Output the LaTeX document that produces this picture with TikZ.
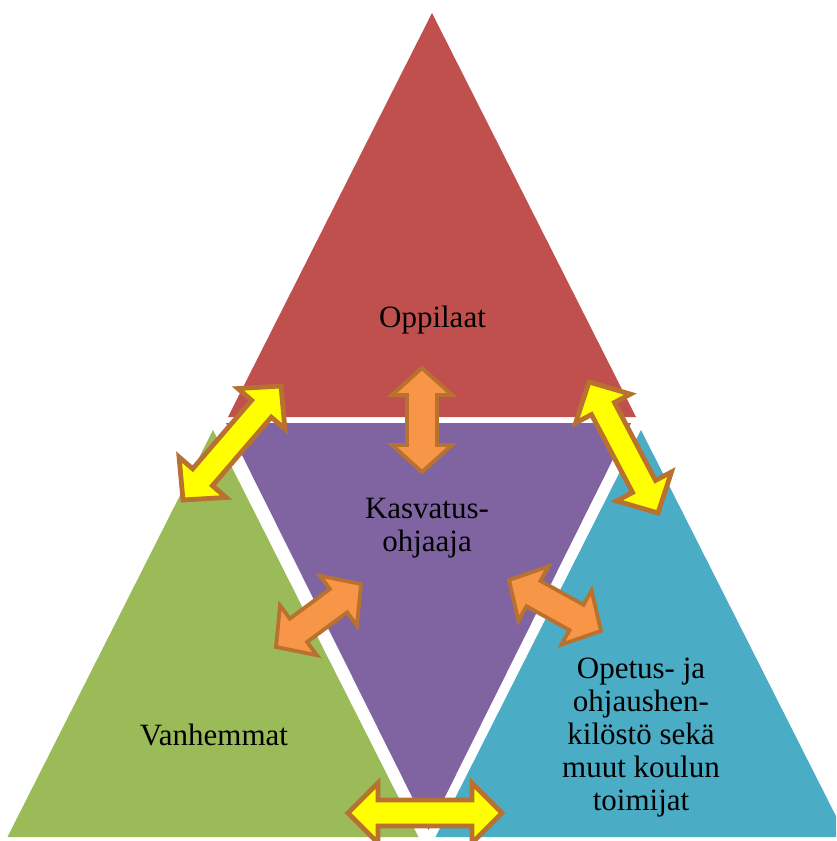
\documentclass[tikz,border=0pt]{standalone}
\usepackage{fontspec}
\setmainfont{Liberation Serif}
\usetikzlibrary{calc}
\definecolor{redT}{HTML}{C0504D}
\definecolor{purpleT}{HTML}{8064A2}
\definecolor{greenT}{HTML}{9BBB59}
\definecolor{blueT}{HTML}{4BACC6}
\definecolor{yellowA}{HTML}{FFFF00}
\definecolor{orangeA}{HTML}{F79646}
\definecolor{edgeA}{HTML}{B8712F}
% #1 style, #2 tip A, #3 tip B, #4 head length, #5 half head width, #6 half shaft width
\newcommand{\DArrow}[6]{%
 \coordinate (#2h) at ($(#2)!#4!(#3)$);
 \coordinate (#3h) at ($(#3)!#4!(#2)$);
 \draw[#1] (#2) -- ($(#2h)!#5!90:(#3)$) -- ($(#2h)!#6!90:(#3)$)
   -- ($(#3h)!#6!-90:(#2)$) -- ($(#3h)!#5!-90:(#2)$) -- (#3)
   -- ($(#3h)!#5!90:(#2)$) -- ($(#3h)!#6!90:(#2)$)
   -- ($(#2h)!#6!-90:(#3)$) -- ($(#2h)!#5!-90:(#3)$) -- cycle;}
\tikzset{
  yarrow/.style={fill=yellowA, draw=edgeA, line width=4.8pt, line join=miter},
  oarrow/.style={fill=orangeA, draw=edgeA, line width=3.8pt, line join=miter},
  lbl/.style={font=\fontsize{31}{33}\selectfont, align=center, inner sep=0pt, text=black},
}
\begin{document}
\begin{tikzpicture}[x=1pt,y=-1pt]
\useasboundingbox (0,0) rectangle (836,841);
\clip (0,0) rectangle (836,841);
% triangles
\fill[redT] (432,13) -- (228,417) -- (636,417) -- cycle;
\fill[purpleT] (226,423) -- (631,423) -- (428.5,830) -- cycle;
\fill[greenT] (213,430) -- (7.5,837) -- (418.5,837) -- cycle;
\fill[blueT] (641,430) -- (435.5,837) -- (846.5,837) -- cycle;
% labels (base anchor = baseline of the last line)
\node[lbl, anchor=base] (opp) at (432.5,327) {Oppilaat};
\node[lbl, anchor=base] (kas) at (427,551) {Kasvatus-\\ohjaaja};
\node[lbl, anchor=base] (van) at (214,745) {Vanhemmat};
\node[lbl, anchor=base] (ope) at (641,810) {Opetus- ja\\ohjaushen-\\kilöstö sekä\\muut koulun\\toimijat};
% arrow end points
\coordinate (ya) at (183,500);  \coordinate (yb) at (281,386);
\coordinate (yc) at (589,382);  \coordinate (yd) at (658,513);
\coordinate (ye) at (348,813);  \coordinate (yf) at (502,813);
\coordinate (oa) at (422,368);  \coordinate (ob) at (422,472);
\coordinate (oc) at (276,647);  \coordinate (od) at (361,584);
\coordinate (oe) at (509,580);  \coordinate (of) at (601,631);
% yellow arrows
\DArrow{yarrow}{ya}{yb}{30pt}{31pt}{13pt}
\DArrow{yarrow}{yc}{yd}{30pt}{31pt}{13pt}
\DArrow{yarrow}{ye}{yf}{30pt}{30pt}{13pt}
% orange arrows
\DArrow{oarrow}{oa}{ob}{27pt}{30pt}{15pt}
\DArrow{oarrow}{oc}{od}{28pt}{31pt}{14.5pt}
\DArrow{oarrow}{oe}{of}{28pt}{31pt}{14.5pt}
\end{tikzpicture}
\end{document}
